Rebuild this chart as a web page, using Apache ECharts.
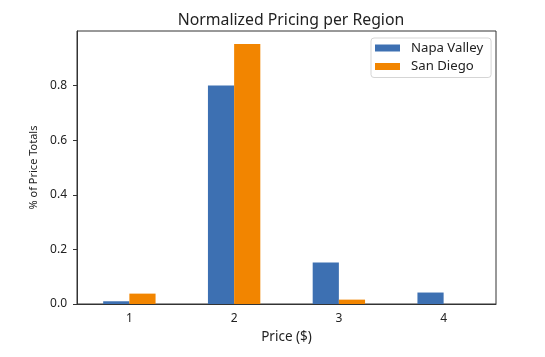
<!DOCTYPE html>
<html>
<head>
<meta charset="utf-8">
<script src="https://cdn.jsdelivr.net/npm/echarts@6/dist/echarts.min.js"></script>
<style>html,body{margin:0;padding:0;background:#fff}#c{width:545px;height:357px}</style>
</head>
<body>
<div id="c"></div>
<script>
const categories = ['1', '2', '3', '4'];
const napaValley = [0.010, 0.800, 0.152, 0.042];
const sanDiego = [0.038, 0.952, 0.016, 0.0];
const yTicks = [0, 0.2, 0.4, 0.6, 0.8];

const font = 'Noto Sans';
const chart = echarts.init(document.getElementById('c'), null, {renderer: 'canvas'});
chart.setOption({
  animation: false,
  backgroundColor: '#fff',
  title: {
    text: 'Normalized Pricing per Region',
    left: 286, top: 7, textAlign: 'center',
    textStyle: {fontFamily: font, fontSize: 15.8, fontWeight: 'normal', color: '#222'}
  },
  legend: {
    left: 371, top: 38, orient: 'vertical',
    itemWidth: 25, itemHeight: 7, itemGap: 2.5,
    padding: [2, 8, 3, 4],
    borderColor: '#d5d5d5', borderWidth: 1, borderRadius: 3,
    backgroundColor: '#fff',
    icon: 'rect',
    textStyle: {fontFamily: font, fontSize: 13.2, lineHeight: 16, color: '#222', padding: [0, 0, 0, 6]},
    data: ['Napa Valley', 'San Diego']
  },
  grid: {
    left: 77, right: 49, top: 31, bottom: 53,
    show: true, borderColor: '#333', borderWidth: 1, backgroundColor: 'transparent'
  },
  xAxis: {
    type: 'category', data: categories,
    name: 'Price ($)', nameLocation: 'middle', nameGap: 25,
    nameTextStyle: {fontFamily: font, fontSize: 13.5, color: '#222'},
    axisLine: {lineStyle: {color: '#333', width: 1}},
    axisTick: {alignWithLabel: true, length: 4, lineStyle: {color: '#333'}},
    axisLabel: {fontFamily: font, fontSize: 12, color: '#222', margin: 9},
    splitLine: {show: false}
  },
  yAxis: {
    type: 'value', min: 0, max: 0.9996,
    name: '% of Price Totals', nameLocation: 'middle', nameGap: 36,
    nameTextStyle: {fontFamily: font, fontSize: 11, color: '#222'},
    axisLine: {show: true, lineStyle: {color: '#333', width: 1}},
    axisTick: {show: true, length: 4, lineStyle: {color: '#333'}, customValues: yTicks},
    axisLabel: {fontFamily: font, fontSize: 12, color: '#222', margin: 10,
      customValues: yTicks, formatter: v => v.toFixed(1)},
    splitLine: {show: false}
  },
  series: [
    {name: 'Napa Valley', type: 'bar', data: napaValley, barWidth: '25%', barGap: '0%',
      itemStyle: {color: '#3d70b2'}},
    {name: 'San Diego', type: 'bar', data: sanDiego, barWidth: '25%', barGap: '0%',
      itemStyle: {color: '#f28500'}}
  ]
});
</script>
</body>
</html>
